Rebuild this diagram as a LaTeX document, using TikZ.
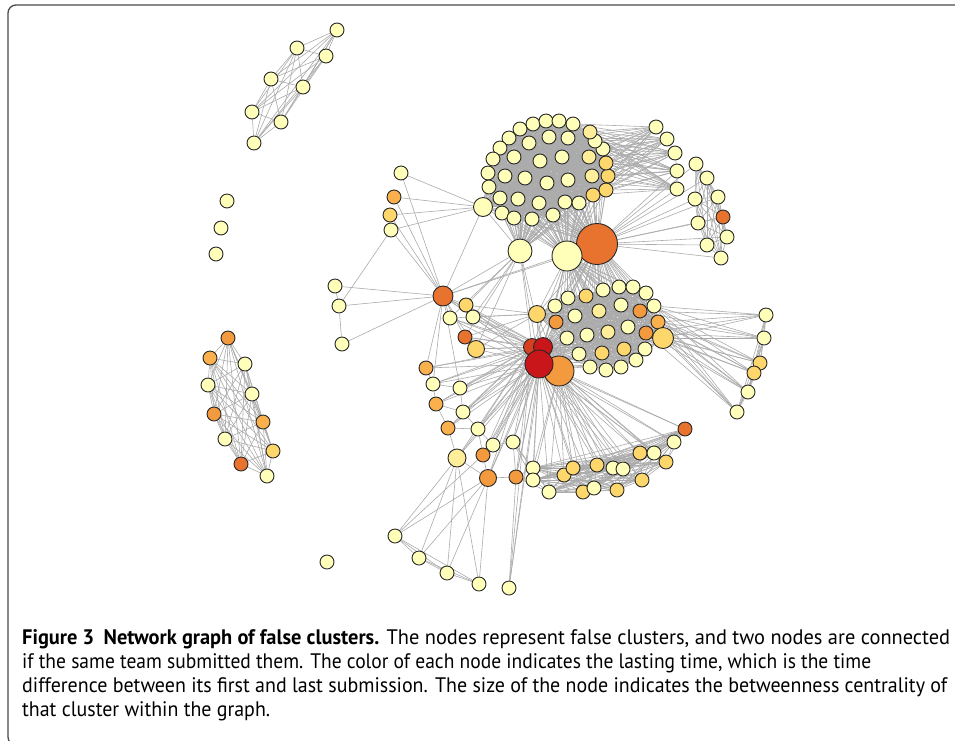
\documentclass[tikz,border=0pt]{standalone}
\usepackage{fontspec}
\setmainfont{PT Sans}[FakeStretch=0.97]
\usetikzlibrary{backgrounds}
\definecolor{cPale}{HTML}{FFFFBA}
\definecolor{cLy}{HTML}{FEEE9A}
\definecolor{cYel}{HTML}{FDD66C}
\definecolor{cLor}{HTML}{FAB04C}
\definecolor{cOr}{HTML}{F39A3E}
\definecolor{cDor}{HTML}{E8732F}
\definecolor{cRor}{HTML}{D6401F}
\definecolor{cRed}{HTML}{C8161A}
\definecolor{frameGray}{HTML}{4A4A4A}
\newcommand{\capline}[2]{\resizebox{#1}{\height}{#2}}

\begin{document}
\begin{tikzpicture}[x=1pt, y=-1pt,
    vtx/.style={circle, draw=black!85, line width=0.9pt, inner sep=0pt, minimum size=14pt, fill=cPale},
    link/.style={draw=black!33, line width=0.6pt},
    caption/.style={anchor=base west, inner sep=0pt, font=\fontsize{21}{24}\selectfont}]
    \useasboundingbox (0,0) rectangle (955,740);
    \draw[frameGray, line width=1.3pt, rounded corners=8pt] (8,5) rectangle (990,745);

    % small groups
    \foreach \n/\x/\y/\c/\s in {t1/337/30/cPale/14, t2/297/48/cPale/14, t3/326/56/cPale/14, t4/271/79/cPale/14,
        t5/303/87/cPale/14, t6/252/112/cPale/14, t7/281/122/cPale/14, t8/254/143/cPale/14,
        s1/227/201/cPale/14, s2/221/228/cPale/14, s3/216/254/cPale/14, s4/327/562/cPale/14}
        \node[vtx, fill=\c, minimum size=\s pt] (\n) at (\x,\y) {};
    \foreach \n/\x/\y/\c/\s in {l1/228/338/cOr/14, l2/210/358/cLor/14, l3/245/364/cPale/14, l4/208/385/cPale/14,
        l5/252/394/cPale/14, l6/214/414/cOr/14, l7/263/422/cLor/14, l8/225/439/cPale/14,
        l9/273/451/cYel/14, l10/241/464/cDor/14, l11/267/476/cPale/14}
        \node[vtx, fill=\c, minimum size=\s pt] (\n) at (\x,\y) {};

    % upper cluster
    \foreach \n/\x/\y/\c/\s in {a1/520/129/cPale/14, a2/533/124/cPale/14, a3/546/121/cPale/14, a4/559/121/cPale/14,
        a5/573/124/cPale/14, a6/509/138/cPale/14, a7/500/148/cPale/14, a8/493/159/cPale/14,
        a9/488/173/cPale/14, a10/489/187/cPale/14, a11/483/207/cPale/19, a12/500/198/cPale/14,
        a13/502/213/cPale/14, a14/514/218/cPale/14, a15/532/219/cPale/14, a16/553/215/cPale/14,
        a17/565/202/cPale/14, a18/579/203/cPale/14, a19/593/195/cYel/14, a20/606/190/cYel/14,
        a21/608/176/cYel/14, a22/606/163/cYel/14, a23/603/149/cPale/14, a24/595/141/cPale/14,
        a25/590/132/cLy/14, a26/529/143/cPale/14, a27/549/137/cPale/14, a28/568/138/cPale/14,
        a29/514/157/cPale/14, a30/540/161/cPale/14, a31/562/157/cPale/14, a32/589/157/cLy/14,
        a33/505/176/cPale/14, a34/525/178/cPale/14, a35/547/183/cPale/14, a36/568/180/cPale/14,
        a37/592/176/cLy/14, a38/518/199/cPale/14, a39/539/203/cPale/14}
        \node[vtx, fill=\c, minimum size=\s pt] (\n) at (\x,\y) {};
    \node[vtx, fill=cDor, minimum size=41pt] (h1) at (597,244) {};
    \node[vtx, minimum size=30pt] (h2) at (567,256) {};
    \node[vtx, minimum size=24pt] (h3) at (520,251) {};

    % arcs on the right
    \foreach \n/\x/\y/\c/\s in {u1/656/127/cPale/14, u2/667/139/cPale/14, u3/675/153/cPale/14, u4/677/171/cPale/14,
        u5/677/189/cPale/14, v1/696/164/cPale/14, v2/707/178/cPale/14, v3/718/197/cPale/14,
        v4/723/217/cDor/14, v5/695/199/cPale/14, v6/698/223/cPale/14, v7/727/237/cPale/14,
        v8/707/245/cPale/14, v9/721/258/cPale/14, w1/766/315/cPale/14, w2/764/338/cPale/14,
        w3/760/363/cYel/14, w4/754/373/cYel/14, w5/748/392/cPale/14, w6/737/412/cPale/14}
        \node[vtx, fill=\c, minimum size=\s pt] (\n) at (\x,\y) {};

    % middle left
    \foreach \n/\x/\y/\c/\s in {m1/401/173/cPale/14, m2/394/197/cLor/14, m3/390/215/cYel/14, m4/391/230/cPale/14,
        m5/335/286/cPale/14, m6/339/306/cPale/14, m7/342/344/cPale/14, m8/443/296/cDor/20,
        m9/466/305/cYel/14, m10/450/318/cPale/14, m11/473/317/cPale/14, m12/465/337/cDor/14,
        m13/476/349/cYel/17}
        \node[vtx, fill=\c, minimum size=\s pt] (\n) at (\x,\y) {};

    % lower cluster
    \foreach \n/\x/\y/\c/\s in {b1/568/298/cPale/14, b2/586/296/cYel/14, b3/603/290/cPale/14, b4/619/287/cPale/14,
        b5/633/287/cPale/14, b6/646/293/cPale/14, b7/654/306/cPale/14, b8/658/322/cLor/14,
        b9/663/338/cYel/21, b10/645/349/cPale/14, b11/636/360/cPale/14, b12/621/367/cPale/14,
        b13/606/370/cPale/14, b14/590/367/cPale/14, b15/579/354/cPale/14, b16/567/338/cPale/14,
        b17/555/306/cPale/14, b18/556/322/cOr/14, b19/537/314/cYel/17, b20/575/316/cPale/14,
        b21/599/311/cLy/14, b22/621/305/cPale/14, b23/640/311/cOr/14, b24/587/335/cPale/14,
        b25/608/332/cLy/14, b26/628/327/cPale/14, b27/646/333/cOr/14, b28/602/353/cYel/14,
        b29/624/349/cYel/14}
        \node[vtx, fill=\c, minimum size=\s pt] (\n) at (\x,\y) {};

    % red core
    \node[vtx, fill=cOr, minimum size=30pt] (r4) at (559,371) {};
    \node[vtx, fill=cRor, minimum size=17pt] (r1) at (532,347) {};
    \node[vtx, fill=cRed, minimum size=19pt] (r2) at (543,347) {};
    \node[vtx, fill=cRed, minimum size=28pt] (r3) at (539,364) {};

    % lower left and bottom
    \foreach \n/\x/\y/\c/\s in {d1/426/368/cLor/14, d2/433/384/cPale/14, d3/460/388/cPale/14, d4/436/404/cLor/14,
        d5/463/412/cPale/14, d6/448/428/cLor/14, d7/478/429/cPale/14, d8/493/445/cPale/14,
        d9/513/442/cPale/14, d10/457/458/cLy/18, d11/483/455/cOr/14, d12/488/478/cOr/17,
        d13/516/477/cOr/14, f1/395/536/cPale/14, f2/419/558/cPale/14, f3/447/573/cPale/14,
        f4/479/584/cPale/14, f5/509/588/cPale/14}
        \node[vtx, fill=\c, minimum size=\s pt] (\n) at (\x,\y) {};
    \foreach \n/\x/\y/\c/\s in {e1/533/468/cPale/14, e2/533/480/cPale/14, e3/549/492/cPale/14, e4/564/475/cYel/14,
        e5/573/468/cYel/14, e6/583/492/cYel/14, e7/594/488/cPale/14, e8/597/465/cYel/14,
        e9/613/468/cPale/14, e10/623/469/cPale/14, e11/617/490/cYel/14, e12/640/453/cYel/14,
        e13/654/453/cPale/14, e14/666/462/cYel/14, e15/642/480/cYel/14, e16/674/442/cPale/14,
        e17/685/429/cDor/14}
        \node[vtx, fill=\c, minimum size=\s pt] (\n) at (\x,\y) {};

    \begin{pgfonlayer}{background}
    % dense groups
    \foreach \i in {1,...,8} \foreach \j in {1,...,8} {\ifnum\j>\i \draw[link] (t\i) -- (t\j);\fi}
    \foreach \i in {1,...,11} \foreach \j in {1,...,11} {\ifnum\j>\i \draw[link] (l\i) -- (l\j);\fi}
    \foreach \i in {1,...,39} \foreach \j in {1,...,39} {\ifnum\j>\i \draw[link] (a\i) -- (a\j);\fi}
    \foreach \i in {1,...,29} \foreach \j in {1,...,29} {\ifnum\j>\i \draw[link] (b\i) -- (b\j);\fi}
    \foreach \i in {1,...,9} \foreach \j in {1,...,9} {\ifnum\j>\i \draw[link] (v\i) -- (v\j);\fi}
    \foreach \i in {1,...,6} \foreach \j in {1,...,6} {\ifnum\j>\i \draw[link] (w\i) -- (w\j);\fi}
    \foreach \i in {1,...,17} \foreach \j in {1,...,17} {\ifnum\j>\i \draw[link] (e\i) -- (e\j);\fi}
    \foreach \i in {1,...,4} \foreach \j in {1,...,4} {\ifnum\j>\i \draw[link] (f\i) -- (f\j);\fi}

    % hubs
    \foreach \i in {1,...,39} {\draw[link] (h1) -- (a\i); \draw[link] (h2) -- (a\i); \draw[link] (h3) -- (a\i);}
    \foreach \i in {1,...,29} {\draw[link] (h1) -- (b\i); \draw[link] (h2) -- (b\i);
        \draw[link] (r2) -- (b\i); \draw[link] (r3) -- (b\i);}
    \foreach \i in {1,...,9} \draw[link] (h1) -- (v\i);
    \foreach \i in {1,...,5} \foreach \k in {a5,a19,a20,a21,a22,a23,a24,a25,a28,a31,a32,a36,a37}
        \draw[link] (u\i) -- (\k);
    \draw[link] (u1) -- (u2) -- (u3) -- (u4) -- (u5) -- (h1);
    \draw[link] (u4) -- (h1);
    \foreach \i in {1,...,6} \foreach \k in {b7,b8,b9,b23,b27} \draw[link] (w\i) -- (\k);

    % red core
    \foreach \k in {h1,h2,h3,m8,m9,m10,m11,m12,m13,d1,d2,d3,d4,d5,d6,d7,d8,d9,d10,d11,d12,d13,f5}
        {\draw[link] (r1) -- (\k); \draw[link] (r2) -- (\k); \draw[link] (r3) -- (\k);}
    \foreach \i in {1,...,17} {\draw[link] (r3) -- (e\i); \draw[link] (r4) -- (e\i);}
    \foreach \k in {r1,r2,r3,h1,h2,b16,b19} \draw[link] (r4) -- (\k);

    % middle left
    \foreach \k in {m1,m2,m3,m4,m5,m6,m7,m9,m10,m11,m12,m13,h1,h2,h3,a11,d1,d2,d3}
        \draw[link] (m8) -- (\k);
    \foreach \k in {m1,m2,m3,m4} \draw[link] (a11) -- (\k);
    \draw[link] (m4) -- (m6) -- (m7);
    \draw[link] (m5) -- (m6);
    \foreach \k in {m9,m10,m11,m12,m13} {\draw[link] (h3) -- (\k); \draw[link] (b19) -- (\k);}

    % lower left and bottom
    \draw[link] (d1) -- (d2) -- (d4) -- (d6) -- (d10) -- (d12) -- (d13) -- (d9) -- (d8) -- (d7) -- (d5) -- (d3);
    \draw[link] (d2) -- (d3); \draw[link] (d4) -- (d5); \draw[link] (d6) -- (d7);
    \draw[link] (d7) -- (d11) -- (d12); \draw[link] (d8) -- (d11);
    \foreach \k in {e1,e2,e3} {\draw[link] (d9) -- (\k); \draw[link] (d13) -- (\k);}
    \foreach \i in {1,...,4} {\draw[link] (f\i) -- (d10); \draw[link] (f\i) -- (d12);}
    \draw[link] (f1) -- (d11); \draw[link] (f5) -- (d13);
    \end{pgfonlayer}

    % caption
    \node[caption] (cap1) at (22,644) {\capline{928pt}{\textbf{Figure 3\hspace{0.45em}Network graph of false clusters.} The nodes represent false clusters, and two nodes are connected}};
    \node[caption] (cap2) at (22,668) {\capline{849pt}{if the same team submitted them. The color of each node indicates the lasting time, which is the time}};
    \node[caption] (cap3) at (22,692) {\capline{925pt}{difference between its first and last submission. The size of the node indicates the betweenness centrality of}};
    \node[caption] (cap4) at (22,716) {\capline{248pt}{that cluster within the graph.}};
\end{tikzpicture}
\end{document}
